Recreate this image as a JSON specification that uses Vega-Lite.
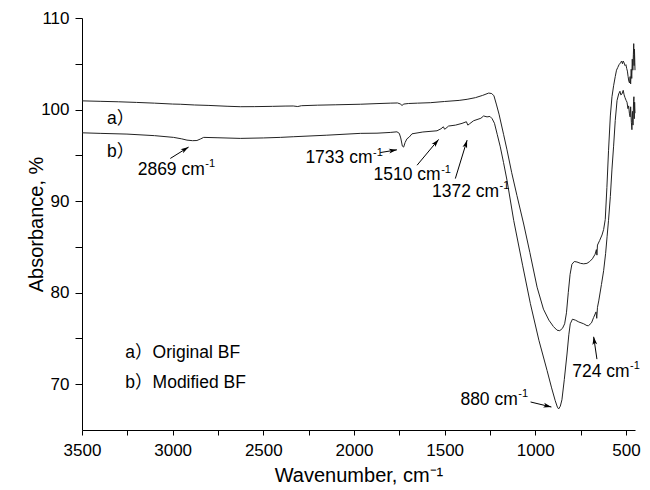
{
  "$schema": "https://vega.github.io/schema/vega-lite/v6.json",
  "width": 553,
  "height": 412,
  "autosize": {"type": "none"},
  "padding": {"left": 82, "top": 18, "right": 15, "bottom": 60},
  "background": "white",
  "config": {
    "view": {"stroke": null},
    "font": "Liberation Sans",
    "axis": {"grid": false, "domainColor": "#000", "tickColor": "#000", "labelColor": "#000", "titleColor": "#000", "labelFont": "Liberation Sans", "titleFont": "Liberation Sans", "titleFontWeight": "normal", "labelFontSize": 17, "titleFontSize": 20, "labelFlush": false, "labelOverlap": false}
  },
  "datasets": {
    "spectra": [
      {"series":"a","wn":3500,"abs":100.95},{"series":"a","wn":3400,"abs":100.9},{"series":"a","wn":3300,"abs":100.85},{"series":"a","wn":3200,"abs":100.78},{"series":"a","wn":3100,"abs":100.7},{"series":"a","wn":3000,"abs":100.6},{"series":"a","wn":2958,"abs":100.58},{"series":"a","wn":2880,"abs":100.5},{"series":"a","wn":2800,"abs":100.45},{"series":"a","wn":2700,"abs":100.36},{"series":"a","wn":2627,"abs":100.31},{"series":"a","wn":2550,"abs":100.32},{"series":"a","wn":2450,"abs":100.35},{"series":"a","wn":2380,"abs":100.38},{"series":"a","wn":2335,"abs":100.39},{"series":"a","wn":2310,"abs":100.33},{"series":"a","wn":2290,"abs":100.42},{"series":"a","wn":2200,"abs":100.48},{"series":"a","wn":2100,"abs":100.52},{"series":"a","wn":1965,"abs":100.58},{"series":"a","wn":1873,"abs":100.65},{"series":"a","wn":1800,"abs":100.7},{"series":"a","wn":1760,"abs":100.72},{"series":"a","wn":1745,"abs":100.62},{"series":"a","wn":1735,"abs":100.45},{"series":"a","wn":1725,"abs":100.6},{"series":"a","wn":1700,"abs":100.66},{"series":"a","wn":1650,"abs":100.7},{"series":"a","wn":1579,"abs":100.75},{"series":"a","wn":1500,"abs":100.88},{"series":"a","wn":1420,"abs":101.0},{"series":"a","wn":1376,"abs":101.12},{"series":"a","wn":1330,"abs":101.3},{"series":"a","wn":1290,"abs":101.55},{"series":"a","wn":1257,"abs":101.8},{"series":"a","wn":1240,"abs":101.75},{"series":"a","wn":1228,"abs":101.5},{"series":"a","wn":1215,"abs":100.6},{"series":"a","wn":1200,"abs":99.5},{"series":"a","wn":1175,"abs":97.3},{"series":"a","wn":1156,"abs":95.6},{"series":"a","wn":1130,"abs":93.1},{"series":"a","wn":1101,"abs":90.6},{"series":"a","wn":1064,"abs":87.5},{"series":"a","wn":1030,"abs":84.4},{"series":"a","wn":990,"abs":80.6},{"series":"a","wn":955,"abs":78.2},{"series":"a","wn":925,"abs":77.0},{"series":"a","wn":900,"abs":76.3},{"series":"a","wn":880,"abs":75.9},{"series":"a","wn":865,"abs":75.85},{"series":"a","wn":850,"abs":76.1},{"series":"a","wn":838,"abs":76.6},{"series":"a","wn":828,"abs":77.8},{"series":"a","wn":818,"abs":80.0},{"series":"a","wn":808,"abs":82.0},{"series":"a","wn":798,"abs":83.1},{"series":"a","wn":785,"abs":83.4},{"series":"a","wn":770,"abs":83.35},{"series":"a","wn":750,"abs":83.2},{"series":"a","wn":733,"abs":83.15},{"series":"a","wn":715,"abs":83.2},{"series":"a","wn":700,"abs":83.4},{"series":"a","wn":685,"abs":83.7},{"series":"a","wn":670,"abs":84.2},{"series":"a","wn":663,"abs":84.7},{"series":"a","wn":660,"abs":84.1},{"series":"a","wn":657,"abs":85.2},{"series":"a","wn":645,"abs":85.7},{"series":"a","wn":632,"abs":86.3},{"series":"a","wn":623,"abs":86.9},{"series":"a","wn":614,"abs":88.0},{"series":"a","wn":605,"abs":91.5},{"series":"a","wn":596,"abs":95.5},{"series":"a","wn":586,"abs":99.3},{"series":"a","wn":577,"abs":101.4},{"series":"a","wn":568,"abs":102.6},{"series":"a","wn":559,"abs":103.6},{"series":"a","wn":552,"abs":104.3},{"series":"a","wn":545,"abs":104.6},{"series":"a","wn":538,"abs":104.9},{"series":"a","wn":530,"abs":105.1},{"series":"a","wn":524,"abs":105.3},{"series":"a","wn":519,"abs":105.0},{"series":"a","wn":515,"abs":105.3},{"series":"a","wn":510,"abs":105.1},{"series":"a","wn":505,"abs":104.8},{"series":"a","wn":500,"abs":104.9},{"series":"a","wn":496,"abs":104.5},{"series":"a","wn":492,"abs":104.2},{"series":"a","wn":488,"abs":103.6},{"series":"a","wn":484,"abs":103.1},{"series":"a","wn":480,"abs":102.9},{"series":"a","wn":477,"abs":103.6},{"series":"a","wn":474,"abs":102.8},{"series":"a","wn":471,"abs":104.4},{"series":"a","wn":468,"abs":103.4},{"series":"a","wn":465,"abs":105.5},{"series":"a","wn":462,"abs":104.3},{"series":"a","wn":459,"abs":106.0},{"series":"a","wn":457,"abs":107.2},{"series":"a","wn":455,"abs":104.8},{"series":"a","wn":453,"abs":106.6},{"series":"a","wn":451,"abs":105.1},{"series":"a","wn":450,"abs":104.3},
      {"series":"b","wn":3500,"abs":97.46},{"series":"b","wn":3400,"abs":97.4},{"series":"b","wn":3252,"abs":97.32},{"series":"b","wn":3100,"abs":97.15},{"series":"b","wn":2995,"abs":96.96},{"series":"b","wn":2950,"abs":96.8},{"series":"b","wn":2921,"abs":96.66},{"series":"b","wn":2890,"abs":96.6},{"series":"b","wn":2866,"abs":96.62},{"series":"b","wn":2845,"abs":96.8},{"series":"b","wn":2829,"abs":96.96},{"series":"b","wn":2750,"abs":96.92},{"series":"b","wn":2627,"abs":96.85},{"series":"b","wn":2500,"abs":96.9},{"series":"b","wn":2406,"abs":96.96},{"series":"b","wn":2335,"abs":97.03},{"series":"b","wn":2150,"abs":97.2},{"series":"b","wn":1965,"abs":97.4},{"series":"b","wn":1873,"abs":97.42},{"series":"b","wn":1800,"abs":97.5},{"series":"b","wn":1763,"abs":97.57},{"series":"b","wn":1750,"abs":97.4},{"series":"b","wn":1742,"abs":96.9},{"series":"b","wn":1733,"abs":96.0},{"series":"b","wn":1726,"abs":95.9},{"series":"b","wn":1718,"abs":96.4},{"series":"b","wn":1708,"abs":96.8},{"series":"b","wn":1695,"abs":97.0},{"series":"b","wn":1680,"abs":97.35},{"series":"b","wn":1620,"abs":97.55},{"series":"b","wn":1542,"abs":97.68},{"series":"b","wn":1520,"abs":97.9},{"series":"b","wn":1507,"abs":98.12},{"series":"b","wn":1500,"abs":97.85},{"series":"b","wn":1493,"abs":97.95},{"series":"b","wn":1478,"abs":98.2},{"series":"b","wn":1440,"abs":98.3},{"series":"b","wn":1404,"abs":98.49},{"series":"b","wn":1380,"abs":98.67},{"series":"b","wn":1372,"abs":98.3},{"series":"b","wn":1362,"abs":98.45},{"series":"b","wn":1340,"abs":98.78},{"series":"b","wn":1300,"abs":99.05},{"series":"b","wn":1285,"abs":99.3},{"series":"b","wn":1266,"abs":99.2},{"series":"b","wn":1250,"abs":99.25},{"series":"b","wn":1238,"abs":99.0},{"series":"b","wn":1225,"abs":98.5},{"series":"b","wn":1210,"abs":97.3},{"series":"b","wn":1193,"abs":95.93},{"series":"b","wn":1175,"abs":94.2},{"series":"b","wn":1156,"abs":92.28},{"series":"b","wn":1119,"abs":87.9},{"series":"b","wn":1070,"abs":83.0},{"series":"b","wn":1027,"abs":78.8},{"series":"b","wn":980,"abs":74.8},{"series":"b","wn":935,"abs":71.5},{"series":"b","wn":910,"abs":69.6},{"series":"b","wn":890,"abs":68.2},{"series":"b","wn":878,"abs":67.5},{"series":"b","wn":871,"abs":67.3},{"series":"b","wn":862,"abs":67.6},{"series":"b","wn":853,"abs":68.3},{"series":"b","wn":840,"abs":70.5},{"series":"b","wn":825,"abs":73.3},{"series":"b","wn":815,"abs":75.4},{"series":"b","wn":807,"abs":76.6},{"series":"b","wn":795,"abs":77.1},{"series":"b","wn":779,"abs":77.0},{"series":"b","wn":760,"abs":76.8},{"series":"b","wn":733,"abs":76.6},{"series":"b","wn":715,"abs":76.4},{"series":"b","wn":706,"abs":76.4},{"series":"b","wn":690,"abs":76.7},{"series":"b","wn":678,"abs":77.3},{"series":"b","wn":665,"abs":77.9},{"series":"b","wn":661,"abs":77.2},{"series":"b","wn":657,"abs":78.4},{"series":"b","wn":650,"abs":79.1},{"series":"b","wn":635,"abs":80.9},{"series":"b","wn":623,"abs":82.4},{"series":"b","wn":612,"abs":84.3},{"series":"b","wn":604,"abs":86.1},{"series":"b","wn":596,"abs":87.9},{"series":"b","wn":586,"abs":90.5},{"series":"b","wn":577,"abs":93.5},{"series":"b","wn":568,"abs":96.0},{"series":"b","wn":559,"abs":98.8},{"series":"b","wn":549,"abs":101.0},{"series":"b","wn":540,"abs":101.7},{"series":"b","wn":533,"abs":102.0},{"series":"b","wn":528,"abs":101.6},{"series":"b","wn":522,"abs":101.7},{"series":"b","wn":515,"abs":102.1},{"series":"b","wn":510,"abs":101.6},{"series":"b","wn":505,"abs":101.3},{"series":"b","wn":499,"abs":101.0},{"series":"b","wn":494,"abs":100.8},{"series":"b","wn":489,"abs":100.1},{"series":"b","wn":485,"abs":100.4},{"series":"b","wn":481,"abs":99.6},{"series":"b","wn":477,"abs":99.2},{"series":"b","wn":474,"abs":100.3},{"series":"b","wn":470,"abs":98.6},{"series":"b","wn":467,"abs":97.8},{"series":"b","wn":464,"abs":99.8},{"series":"b","wn":461,"abs":98.3},{"series":"b","wn":458,"abs":100.9},{"series":"b","wn":456,"abs":101.4},{"series":"b","wn":454,"abs":99.0},{"series":"b","wn":452,"abs":100.8},{"series":"b","wn":450,"abs":99.6}
    ],
    "notes": [
      {"label":"a）","wn":3362,"abs":98.93},
      {"label":"b）","wn":3362,"abs":95.38},
      {"label":"2869 cm","wn":3193,"abs":93.38},
      {"label":"1733 cm","wn":2268,"abs":94.66},
      {"label":"1510 cm","wn":1892,"abs":92.83},
      {"label":"1372 cm","wn":1570,"abs":91.0},
      {"label":"880 cm","wn":1413,"abs":68.28},
      {"label":"724 cm","wn":796,"abs":71.35},
      {"label":"a）Original BF","wn":3261,"abs":73.46},
      {"label":"b）Modified BF","wn":3261,"abs":70.18}
    ],
    "sups": [
      {"label":"-1","wn":2820,"abs":94.0},
      {"label":"-1","wn":1895,"abs":95.28},
      {"label":"-1","wn":1519,"abs":93.45},
      {"label":"-1","wn":1197,"abs":91.62},
      {"label":"-1","wn":1094,"abs":68.9},
      {"label":"-1","wn":477,"abs":71.97}
    ],
    "arrows": [
      {"wn":2912,"abs":95.9,"wnT":3013,"absT":94.66},
      {"wn":1763,"abs":95.6,"wnT":1855,"absT":95.3},
      {"wn":1533,"abs":96.74,"wnT":1652,"absT":93.92},
      {"wn":1376,"abs":96.66,"wnT":1441,"absT":92.46},
      {"wn":911,"abs":67.51,"wnT":1026,"absT":68.06},
      {"wn":678,"abs":75.18,"wnT":660,"absT":72.74}
    ]
  },
  "encoding": {
    "x": {
      "field": "wn", "type": "quantitative",
      "scale": {"domain": [3500, 450], "nice": false, "zero": false},
      "axis": {
        "title": "Wavenumber, cm⁻¹",
        "values": [3500, 3250, 3000, 2750, 2500, 2250, 2000, 1750, 1500, 1250, 1000, 750, 500],
        "labelExpr": "datum.value % 500 === 0 ? datum.label : ''",
        "format": "d",
        "tickSize": 5, "labelPadding": 7,
        "titleBaseline": "alphabetic", "titleY": 51
      }
    },
    "y": {
      "field": "abs", "type": "quantitative",
      "scale": {"domain": [65, 110], "nice": false, "zero": false},
      "axis": {
        "title": "Absorbance, %",
        "values": [70, 75, 80, 85, 90, 95, 100, 105, 110],
        "labelExpr": "datum.value % 10 === 0 ? datum.label : ''",
        "tickSize": 7, "labelPadding": 6,
        "titleBaseline": "alphabetic", "titleX": -40
      }
    }
  },
  "layer": [
    {
      "data": {"name": "spectra"},
      "mark": {"type": "line", "color": "#222", "strokeWidth": 1},
      "encoding": {"detail": {"field": "series"}}
    },
    {
      "data": {"name": "arrows"},
      "mark": {"type": "rule", "color": "#000", "strokeWidth": 1},
      "encoding": {"x2": {"field": "wnT"}, "y2": {"field": "absT"}}
    },
    {
      "data": {"name": "arrows"},
      "transform": [{"calculate": "atan2(-(datum.wn - datum.wnT) * 0.1813, (datum.abs - datum.absT) * 9.125) * 180 / PI", "as": "ang"}],
      "mark": {"type": "point", "shape": "M0,0L-0.6,2L0,1.5L0.6,2Z", "filled": true, "color": "#000", "opacity": 1, "size": 64},
      "encoding": {"angle": {"field": "ang", "type": "quantitative", "scale": null}}
    },
    {
      "data": {"name": "notes"},
      "mark": {"type": "text", "align": "left", "baseline": "middle", "fontSize": 17.5, "font": "Liberation Sans, Noto Sans CJK SC, DejaVu Sans", "color": "#000"},
      "encoding": {"text": {"field": "label"}}
    },
    {
      "data": {"name": "sups"},
      "mark": {"type": "text", "align": "left", "baseline": "middle", "fontSize": 11, "font": "Liberation Sans", "color": "#000"},
      "encoding": {"text": {"field": "label"}}
    }
  ]
}
